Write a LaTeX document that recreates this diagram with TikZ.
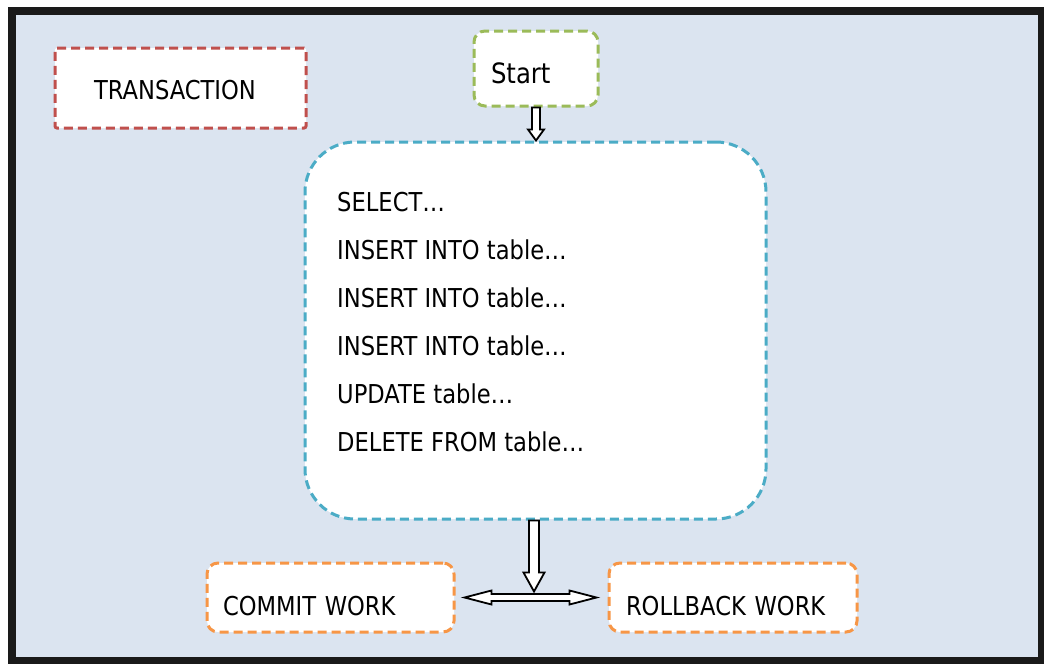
\documentclass[tikz,border=0pt]{standalone}
\usepackage{fontspec}
\setmainfont{DejaVu Sans}[FakeStretch=0.87]
\usetikzlibrary{calc}
\definecolor{bgblue}{RGB}{219,228,240}
\definecolor{frameblack}{RGB}{26,26,26}
\definecolor{dred}{RGB}{192,80,77}
\definecolor{dgreen}{RGB}{155,187,89}
\definecolor{dblue}{RGB}{75,172,198}
\definecolor{dorange}{RGB}{247,150,70}
\tikzset{
  dbox/.style={draw, fill=white, line width=3pt, dash pattern=on 9pt off 5pt,
    inner ysep=0pt, text depth=0pt, align=left,
    font=\fontsize{26}{31}\selectfont},
  stmt/.style={anchor=base west, inner sep=0pt, font=\fontsize{26}{31}\selectfont},
  blockarrow/.style={draw=black, fill=white, line width=1.8pt, line join=miter},
}
\begin{document}
\begin{tikzpicture}[x=1pt,y=-1pt]
\useasboundingbox (0,0) rectangle (1044,664);
\fill[white] (0,0) rectangle (1044,664);
\fill[frameblack] (8,7) rectangle (1044,664);
\fill[bgblue] (16,15) rectangle (1038,657);

% boxes
\node[dbox, draw=dred, rounded corners=2pt, minimum width=251pt, minimum height=80pt,
      inner xsep=39pt, text width=173pt, text height=23pt] (trans) at (180.5,88) {TRANSACTION};
\node[dbox, draw=dgreen, rounded corners=11pt, minimum width=124pt, minimum height=75pt,
      inner xsep=17pt, text width=90pt, text height=29pt,
      font=\fontsize{28}{33}\selectfont] (start) at (536,68.5) {Start};
\node[dbox, draw=dblue, rounded corners=50pt, minimum width=461pt, minimum height=377pt] (main) at (535.5,330.5) {};
\node[dbox, draw=dorange, rounded corners=11pt, minimum width=247pt, minimum height=69pt,
      inner xsep=16pt, text width=215pt, text height=36pt] (commit) at (330.5,597.5) {COMMIT WORK};
\node[dbox, draw=dorange, rounded corners=11pt, minimum width=248pt, minimum height=69pt,
      inner xsep=17pt, text width=214pt, text height=36pt] (rollback) at (733,597.5) {ROLLBACK WORK};

% statements
\foreach \t [count=\i] in {SELECT…, INSERT INTO table…, INSERT INTO table…, INSERT INTO table…, UPDATE table…, DELETE FROM table…}
  \node[stmt] (s\i) at (337,163.5+48*\i) {\t};

% arrow start -> main
\coordinate (a1tip) at (start.south |- main.north);
\draw[blockarrow] ($(start.south)+(-4,0)$) -- ($(start.south)+(4,0)$) -- ($(a1tip)+(4,-11)$)
  -- ($(a1tip)+(8,-11)$) -- (a1tip) -- ($(a1tip)+(-8,-11)$) -- ($(a1tip)+(-4,-11)$) -- cycle;

% horizontal double arrow commit <-> rollback
\coordinate (hl) at ($(commit.east)+(9,0)$);
\coordinate (hr) at ($(rollback.west)+(-11,0)$);
\draw[blockarrow] (hl) -- ($(hl)+(27,-7)$) -- ($(hl)+(27,-3.5)$) -- ($(hr)+(-27,-3.5)$)
  -- ($(hr)+(-27,-7)$) -- (hr) -- ($(hr)+(-27,7)$) -- ($(hr)+(-27,3.5)$)
  -- ($(hl)+(27,3.5)$) -- ($(hl)+(27,7)$) -- cycle;

% arrow main -> double arrow
\coordinate (a2top) at ($(main.south)+(-1.5,0)$);
\coordinate (a2tip) at ($(a2top |- hl)+(0,-6)$);
\draw[blockarrow] ($(a2top)+(-5,0)$) -- ($(a2top)+(5,0)$) -- ($(a2tip)+(5,-19)$)
  -- ($(a2tip)+(10.5,-19)$) -- (a2tip) -- ($(a2tip)+(-10.5,-19)$) -- ($(a2tip)+(-5,-19)$) -- cycle;
\end{tikzpicture}
\end{document}
